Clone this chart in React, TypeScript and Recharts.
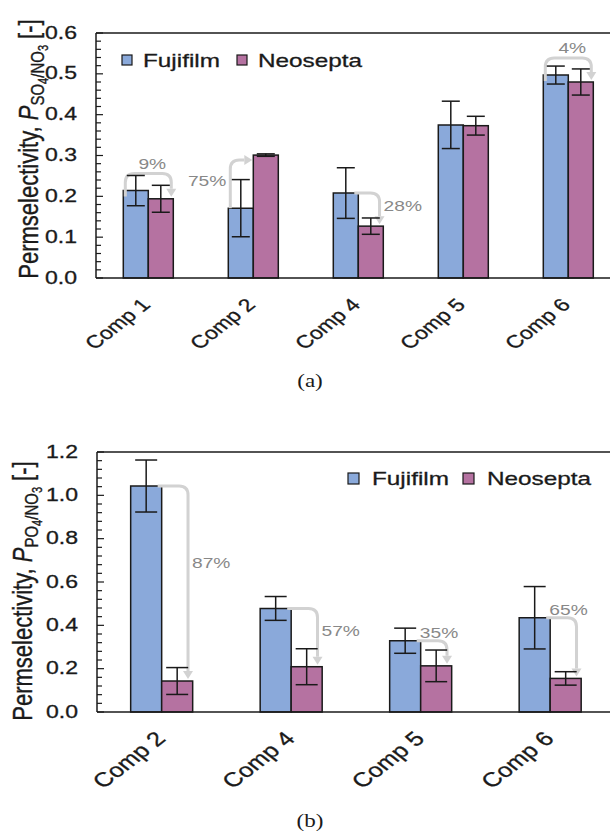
import React from 'react';
import { BarChart, Bar, XAxis, YAxis, ErrorBar, ReferenceLine, Legend } from 'recharts';

// (a) SO4/NO3 permselectivity
const compsA = ['Comp 1', 'Comp 2', 'Comp 4', 'Comp 5', 'Comp 6'];
const fujiA = [0.214, 0.171, 0.208, 0.375, 0.497];
const fujiErrA = [0.037, 0.07, 0.062, 0.058, 0.022];
const neoA = [0.194, 0.301, 0.127, 0.373, 0.48];
const neoErrA = [0.033, 0.003, 0.02, 0.023, 0.032];
const changeA = ['9%', '75%', '28%', '', '4%'];
const ticksA = [0, 0.1, 0.2, 0.3, 0.4, 0.5, 0.6];

// (b) PO4/NO3 permselectivity
const compsB = ['Comp 2', 'Comp 4', 'Comp 5', 'Comp 6'];
const fujiB = [1.043, 0.478, 0.329, 0.435];
const fujiErrB = [0.12, 0.055, 0.058, 0.144];
const neoB = [0.143, 0.209, 0.213, 0.155];
const neoErrB = [0.062, 0.083, 0.073, 0.031];
const changeB = ['87%', '57%', '35%', '65%'];
const ticksB = [0, 0.2, 0.4, 0.6, 0.8, 1.0, 1.2];

// how each change arrow is drawn
const arrowKindsA = ['over', 'up', 'side', 'none', 'over'];
const arrowKindsB = ['side', 'side', 'above', 'above'];

const FONT = '"Liberation Sans", Arial, Helvetica, sans-serif';
const SERIF = '"Liberation Serif", "Times New Roman", serif';
const SX = 1.28; // the figure is stretched sideways
const FUJI = '#8aa9da';
const NEO = '#b572a1';
const INK = '#1a1a1a';
const ARROW = '#d2d2d2';
const PCT = '#888888';
const HEAVY = { stroke: INK, strokeWidth: 0.3 };

const build = (comps: string[], f: number[], fe: number[], n: number[], ne: number[], ch: string[]) =>
  comps.map((comp, i) => ({ comp, fuji: f[i], fujiErr: fe[i], neo: n[i], neoErr: ne[i], change: ch[i] }));

const dataA = build(compsA, fujiA, fujiErrA, neoA, neoErrA, changeA);
const dataB = build(compsB, fujiB, fujiErrB, neoB, neoErrB, changeB);

// 4 minor ticks between each major one
const withMinor = (major: number[]) => {
  const out: number[] = [];
  for (let i = 0; i < major.length - 1; i++) {
    const step = (major[i + 1] - major[i]) / 5;
    for (let k = 0; k < 5; k++) out.push(Number((major[i] + k * step).toFixed(4)));
  }
  out.push(major[major.length - 1]);
  return out;
};

const makeYTick = (major: number[]) => (props: any) => {
  const { x, y, payload } = props;
  const v = payload.value;
  const isMajor = major.some((m) => Math.abs(m - v) < 1e-6);
  return (
    <g>
      <line x1={x} x2={x + (isMajor ? 7 : 5)} y1={y} y2={y} stroke={INK} strokeWidth={1.2} />
      {isMajor && (
        <text
          transform={`translate(${x - 19},${y - 1}) scale(${SX},1)`}
          textAnchor="end"
          dominantBaseline="central"
          fontSize={18}
          fontFamily={FONT}
          fill={INK}
          {...HEAVY}
        >
          {v.toFixed(1)}
        </text>
      )}
    </g>
  );
};

const makeXTick = (size: number, dx: number, dy: number) => (props: any) => {
  const { x, y, payload } = props;
  return (
    <text
      transform={`translate(${x + dx},${y + dy}) scale(${SX},1) rotate(-45)`}
      textAnchor="end"
      fontSize={size}
      fontFamily={FONT}
      fill={INK}
      {...HEAVY}
    >
      {payload.value}
    </text>
  );
};

const YTitle = ({ bx, cy, ion }: { bx: number; cy: number; ion: string }) => (
  <text
    transform={`translate(${bx},${cy}) scale(${SX},1) rotate(-90)`}
    textAnchor="middle"
    fontSize={22}
    fontFamily={FONT}
    fill={INK}
    {...HEAVY}
  >
    Permselectivity, <tspan fontStyle="italic">P</tspan>
    <tspan fontSize={15} dy={5}>{ion}O</tspan>
    <tspan fontSize={11} dy={3}>4</tspan>
    <tspan fontSize={15} dy={-3}>/NO</tspan>
    <tspan fontSize={11} dy={3}>3</tspan>
    <tspan fontSize={22} dy={-8}> [-]</tspan>
  </text>
);

function ChangeArrow({ kind, label, fx, fTop, nx, nw, nTop }: any) {
  if (kind === 'none') return null;
  const r = 9;
  const hl = 8;
  const hw = 5;
  let d = '';
  let head = '';
  let tx = 0;
  let ty = 0;
  let anchor = 'middle';
  if (kind === 'over') {
    const sx = fx + 2;
    const ex = nx + nw - 2;
    const top = Math.min(fTop, nTop) - 17;
    const tip = nTop - 2;
    d = `M${sx},${fTop + 6} V${top + r} Q${sx},${top} ${sx + r},${top} H${ex - r} Q${ex},${top} ${ex},${top + r} V${tip - hl}`;
    head = `${ex - hw},${tip - hl} ${ex + hw},${tip - hl} ${ex},${tip}`;
    tx = (sx + ex) / 2 + 4;
    ty = top - 10;
  } else if (kind === 'up') {
    const sx = fx + 2;
    const ay = nTop + 5;
    const tip = nx - 1;
    d = `M${sx},${fTop} V${ay + r} Q${sx},${ay} ${sx + r},${ay} H${tip - hl}`;
    head = `${tip - hl},${ay - hw} ${tip - hl},${ay + hw} ${tip},${ay}`;
    tx = sx - 4;
    ty = (fTop + ay) / 2 - 3;
    anchor = 'end';
  } else {
    const lx = nx + nw * 0.85;
    const tip = nTop - 2;
    d = `M${nx - 4},${fTop} H${lx - r} Q${lx},${fTop} ${lx},${fTop + r} V${tip - hl}`;
    head = `${lx - hw},${tip - hl} ${lx + hw},${tip - hl} ${lx},${tip}`;
    if (kind === 'side') {
      tx = lx + 4;
      ty = fTop + 0.4 * (tip - fTop);
      anchor = 'start';
    } else {
      tx = lx - 8;
      ty = fTop - 8;
    }
  }
  return (
    <g>
      <path d={d} fill="none" stroke={ARROW} strokeWidth={3} />
      <polygon points={head} fill={ARROW} />
      <text
        transform={`translate(${tx},${ty}) scale(${SX},1)`}
        textAnchor={anchor as any}
        dominantBaseline="central"
        fontSize={15}
        fontFamily={FONT}
        fill={PCT}
      >
        {label}
      </text>
    </g>
  );
}

// Neosepta bar: draws its rect and the change arrow from the Fujifilm bar next to it
const makeNeoShape = (kinds: string[]) => (props: any) => {
  const { x, y, width, height, index, payload, fill } = props;
  const base = y + height;
  const fTop = base - (height * payload.fuji) / payload.neo;
  return (
    <g>
      <rect x={x} y={y} width={width} height={height} fill={fill} stroke={INK} strokeWidth={1.5} />
      <ChangeArrow kind={kinds[index]} label={payload.change} fx={x - width} fTop={fTop} nx={x} nw={width} nTop={y} />
    </g>
  );
};

const makeLegend = (size: number, textX: number, gapX: number) => (props: any) => {
  const items = props.payload || [];
  return (
    <svg width={260} height={28} style={{ display: 'block' }}>
      {items.map((p: any, i: number) => (
        <g key={p.value} transform={`translate(${i * gapX},0)`}>
          <rect x={1} y={7} width={size} height={size} fill={p.color} stroke={INK} strokeWidth={1.2} />
          <text transform={`translate(${textX},19) scale(${SX},1)`} fontSize={19} fontFamily={FONT} fill={INK} {...HEAVY}>
            {p.value}
          </text>
        </g>
      ))}
    </svg>
  );
};

const Caption = ({ text, top }: { text: string; top: number }) => (
  <div
    style={{
      position: 'absolute',
      left: 310,
      top,
      transform: `translateX(-50%) scaleX(${SX})`,
      fontFamily: SERIF,
      fontSize: 18,
      color: INK,
      lineHeight: '20px',
    }}
  >
    {text}
  </div>
);

const axisLine = { stroke: INK, strokeWidth: 1.5 };

export default function App() {
  const minorA = withMinor(ticksA);
  const minorB = withMinor(ticksB);
  return (
    <div style={{ position: 'absolute', left: 0, top: 0, width: 610, height: 835, overflow: 'hidden', background: '#fff' }}>
      <div style={{ position: 'absolute', left: 0, top: 0 }}>
        <BarChart width={625} height={400} data={dataA} margin={{ top: 33, right: 4, left: 0, bottom: 0 }} barCategoryGap="26%" barGap={0}>
          <XAxis dataKey="comp" height={122} interval={0} tick={makeXTick(18, 3, 28)} tickLine={false} tickSize={0} tickMargin={0} axisLine={axisLine} />
          <YAxis
            width={96}
            domain={[0, 0.6]}
            ticks={minorA}
            interval={0}
            tick={makeYTick(ticksA)}
            tickLine={false}
            tickSize={0}
            tickMargin={0}
            axisLine={axisLine}
            label={<YTitle bx={38} cy={149} ion="S" />}
          />
          <ReferenceLine y={0.6} stroke={INK} strokeWidth={1.5} />
          <Legend
            layout="horizontal"
            verticalAlign="middle"
            align="center"
            content={makeLegend(10, 22, 115)}
            wrapperStyle={{ left: 121, top: 48, width: 260 }}
          />
          <Bar dataKey="fuji" name="Fujifilm" fill={FUJI} stroke={INK} strokeWidth={1.5} isAnimationActive={false}>
            <ErrorBar dataKey="fujiErr" width={9} stroke={INK} strokeWidth={1.5} />
          </Bar>
          <Bar dataKey="neo" name="Neosepta" fill={NEO} stroke={INK} strokeWidth={1.5} isAnimationActive={false} shape={makeNeoShape(arrowKindsA)}>
            <ErrorBar dataKey="neoErr" width={9} stroke={INK} strokeWidth={1.5} />
          </Bar>
        </BarChart>
      </div>
      <Caption text="(a)" top={371} />

      <div style={{ position: 'absolute', left: 0, top: 420 }}>
        <BarChart width={620} height={400} data={dataB} margin={{ top: 32, right: 5, left: 0, bottom: 0 }} barCategoryGap="26%" barGap={0}>
          <XAxis dataKey="comp" height={108} interval={0} tick={makeXTick(20, 5, 28)} tickLine={false} tickSize={0} tickMargin={0} axisLine={axisLine} />
          <YAxis
            width={97}
            domain={[0, 1.2]}
            ticks={minorB}
            interval={0}
            tick={makeYTick(ticksB)}
            tickLine={false}
            tickSize={0}
            tickMargin={0}
            axisLine={axisLine}
            label={<YTitle bx={32} cy={171} ion="P" />}
          />
          <ReferenceLine y={1.2} stroke={INK} strokeWidth={1.5} />
          <Legend
            layout="horizontal"
            verticalAlign="middle"
            align="center"
            content={makeLegend(11, 25, 115)}
            wrapperStyle={{ left: 347, top: 46, width: 260 }}
          />
          <Bar dataKey="fuji" name="Fujifilm" fill={FUJI} stroke={INK} strokeWidth={1.5} isAnimationActive={false}>
            <ErrorBar dataKey="fujiErr" width={11} stroke={INK} strokeWidth={1.5} />
          </Bar>
          <Bar dataKey="neo" name="Neosepta" fill={NEO} stroke={INK} strokeWidth={1.5} isAnimationActive={false} shape={makeNeoShape(arrowKindsB)}>
            <ErrorBar dataKey="neoErr" width={11} stroke={INK} strokeWidth={1.5} />
          </Bar>
        </BarChart>
      </div>
      <Caption text="(b)" top={811} />
    </div>
  );
}
